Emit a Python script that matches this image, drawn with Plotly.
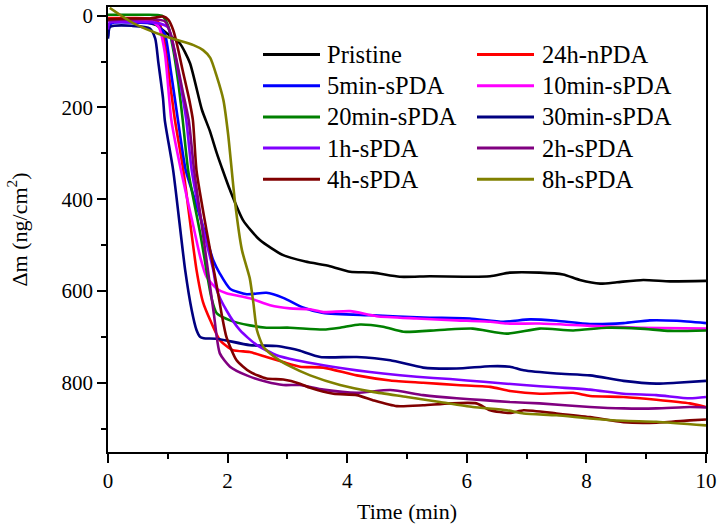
import plotly.graph_objects as go

# ---------------- data ----------------
t_pristine = [0, 0.3, 0.6, 0.8, 1.0, 1.2, 1.37, 1.57, 1.7, 1.82, 1.9, 2.04, 2.26, 2.54, 2.93, 3.3, 3.71, 4.05, 4.43, 4.88, 5.38, 5.94, 6.39, 6.72, 7.22, 7.61, 7.89, 8.23, 8.51, 8.95, 9.4, 10]
dm_pristine = [10, 12, 14, 20, 40, 60, 103, 205, 250, 300, 330, 380, 446, 489, 522, 536, 546, 558, 560, 569, 568, 569, 568, 560, 560, 564, 576, 584, 581, 576, 579, 578]

t_24h_n = [0, 0.3, 0.7, 0.85, 0.95, 1.02, 1.12, 1.26, 1.48, 1.59, 1.71, 1.87, 2.09, 2.37, 2.65, 2.93, 3.21, 3.6, 4.16, 4.72, 5.27, 5.83, 6.39, 6.72, 7.22, 7.78, 8.06, 8.62, 9.17, 9.73, 10]
dm_24h_n = [5, 5, 6, 15, 60, 130, 228, 337, 554, 625, 664, 707, 729, 733, 744, 755, 765, 767, 784, 795, 800, 805, 809, 818, 824, 822, 829, 831, 837, 845, 853]

t_5min = [0, 0.03, 0.1, 0.5, 0.8, 0.95, 1.05, 1.17, 1.30, 1.45, 1.59, 1.76, 1.87, 2.04, 2.32, 2.65, 2.93, 3.26, 3.6, 4.43, 5.27, 6.05, 6.61, 7.06, 7.5, 8.06, 8.62, 9.06, 9.51, 10]
dm_5min = [45, 20, 15, 15, 18, 40, 120, 228, 337, 400, 460, 533, 562, 595, 607, 604, 615, 636, 648, 653, 658, 660, 667, 662, 665, 672, 670, 664, 665, 670]

t_10min = [0, 0.3, 0.7, 0.85, 0.95, 1.06, 1.22, 1.43, 1.55, 1.65, 1.82, 1.98, 2.37, 2.71, 3.04, 3.38, 3.6, 4.05, 4.49, 5.16, 5.83, 6.39, 6.67, 7.22, 8.06, 8.9, 10]
dm_10min = [10, 8, 10, 25, 80, 228, 337, 460, 530, 570, 595, 605, 616, 631, 638, 640, 646, 644, 655, 660, 664, 667, 671, 671, 676, 680, 682]

t_20min = [0, 0.5, 0.9, 1.0, 1.1, 1.18, 1.25, 1.34, 1.55, 1.73, 1.82, 2.04, 2.37, 2.65, 3.04, 3.6, 3.88, 4.21, 4.6, 4.94, 5.55, 6.1, 6.67, 7.22, 7.78, 8.34, 8.9, 9.4, 10]
dm_20min = [-2, -2, 0, 20, 80, 150, 228, 337, 480, 615, 649, 664, 675, 680, 680, 684, 680, 673, 678, 689, 685, 682, 693, 682, 686, 680, 682, 687, 686]

t_30min = [0, 0.03, 0.1, 0.4, 0.7, 0.79, 0.84, 0.92, 0.95, 1.09, 1.29, 1.40, 1.48, 1.54, 1.6, 1.82, 2.37, 2.82, 3.04, 3.2, 3.55, 4.16, 4.72, 5.27, 5.83, 6.39, 6.72, 6.95, 7.5, 8.06, 8.62, 9.17, 9.51, 10]
dm_30min = [50, 25, 22, 22, 28, 50, 100, 180, 228, 337, 554, 642, 685, 700, 703, 704, 718, 720, 725, 730, 744, 744, 751, 767, 769, 764, 765, 773, 780, 784, 796, 802, 800, 796]

t_1h = [0, 0.03, 0.3, 0.8, 1.0, 1.1, 1.2, 1.31, 1.40, 1.6, 1.76, 1.82, 1.98, 2.21, 2.49, 2.82, 3.15, 3.6, 4.16, 4.6, 5.16, 5.72, 6.28, 6.95, 7.5, 8.06, 8.62, 9.17, 9.73, 10]
dm_1h = [30, 15, 14, 15, 25, 70, 140, 228, 337, 470, 554, 598, 642, 686, 718, 740, 751, 762, 773, 780, 787, 792, 798, 805, 810, 815, 824, 827, 834, 831]

t_2h = [0, 0.3, 0.8, 0.95, 1.05, 1.15, 1.25, 1.35, 1.44, 1.55, 1.67, 1.77, 1.87, 2.04, 2.32, 2.65, 2.93, 3.21, 3.6, 4.16, 4.72, 5.27, 5.83, 6.28, 6.72, 7.22, 8.06, 8.62, 9.17, 9.73, 10]
dm_2h = [10, 8, 8, 12, 40, 100, 165, 228, 337, 440, 554, 650, 736, 765, 784, 798, 805, 805, 815, 822, 816, 827, 834, 838, 842, 845, 853, 856, 856, 853, 854]

t_4h = [0, 0.3, 0.7, 0.93, 1.01, 1.09, 1.15, 1.25, 1.36, 1.42, 1.48, 1.65, 1.82, 1.90, 1.98, 2.15, 2.37, 2.65, 2.93, 3.21, 3.38, 3.77, 4.16, 4.43, 4.83, 5.27, 5.72, 6.16, 6.39, 6.72, 6.95, 7.5, 8.06, 8.62, 9.17, 9.73, 10]
dm_4h = [8, 6, 6, 2, 9, 31, 60, 120, 184, 228, 337, 470, 590, 650, 700, 751, 776, 791, 793, 802, 811, 824, 827, 838, 851, 849, 845, 845, 860, 866, 860, 867, 875, 886, 887, 882, 880]

t_8h = [0.03, 0.42, 0.98, 1.43, 1.59, 1.71, 1.82, 1.93, 2.01, 2.12, 2.24, 2.37, 2.43, 2.49, 2.6, 2.82, 3.04, 3.38, 3.88, 4.43, 5.0, 5.55, 6.1, 6.67, 6.95, 7.5, 8.06, 8.62, 9.17, 10]
dm_8h = [-17, 16, 46, 64, 75, 92, 133, 184, 260, 402, 511, 572, 625, 685, 722, 747, 764, 784, 805, 820, 831, 842, 853, 860, 867, 871, 878, 883, 885, 893]

series_names = ["Pristine", "24h-nPDA", "5min-sPDA", "10min-sPDA", "20min-sPDA",
                "30min-sPDA", "1h-sPDA", "2h-sPDA", "4h-sPDA", "8h-sPDA"]
series_t = [t_pristine, t_24h_n, t_5min, t_10min, t_20min, t_30min, t_1h, t_2h, t_4h, t_8h]
series_dm = [dm_pristine, dm_24h_n, dm_5min, dm_10min, dm_20min, dm_30min, dm_1h, dm_2h, dm_4h, dm_8h]
series_colors = ["#000000", "#FF0000", "#0000FF", "#FF00FF", "#008000",
                 "#000080", "#8000FF", "#800080", "#800000", "#808000"]

x_ticks = [0, 2, 4, 6, 8, 10]
y_ticks = [0, 200, 400, 600, 800]

FONT = "Liberation Serif, Times New Roman, serif"

# ---------------- figure ----------------
fig = go.Figure()
for name, t, dm, c in zip(series_names, series_t, series_dm, series_colors):
    fig.add_trace(go.Scatter(x=t, y=dm, mode="lines", name=name, showlegend=False,
                             line=dict(color=c, width=2.6, shape="spline", smoothing=0.6)))

W, H = 721, 529
ML, MR, MT, MB = 108, 15, 7, 77
pw, ph = W - ML - MR, H - MT - MB

def px_to_paper(px, py):
    return (px - ML) / pw, (H - MB - py) / ph

# custom legend (two columns, row-wise order)
row0, dy = 54.5, 31.2
col_line = [(263, 320), (477, 534)]
col_text = [325, 540]
for i, (name, c) in enumerate(zip(series_names, series_colors)):
    r, col = divmod(i, 2)
    y = row0 + r * dy
    x0, _ = px_to_paper(col_line[col][0], y)
    x1, yp = px_to_paper(col_line[col][1], y)
    fig.add_shape(type="line", xref="paper", yref="paper", x0=x0, x1=x1, y0=yp, y1=yp,
                  line=dict(color=c, width=3))
    xt, _ = px_to_paper(col_text[col], y)
    fig.add_annotation(xref="paper", yref="paper", x=xt, y=yp, text=name, showarrow=False,
                       xanchor="left", yanchor="middle", font=dict(family=FONT, size=24.5, color="black"))

axis_common = dict(showline=True, linecolor="black", linewidth=1.8, mirror=True,
                   ticks="outside", ticklen=9, tickwidth=1.5, tickcolor="black",
                   showgrid=False, zeroline=False,
                   tickfont=dict(family=FONT, size=21, color="black"))

fig.update_xaxes(range=[0, 10], tickvals=x_ticks,
                 minor=dict(ticks="outside", ticklen=5, tickwidth=1.5, tickcolor="black", dtick=1, tick0=0),
                 title=dict(text="Time (min)", font=dict(family=FONT, size=22, color="black"), standoff=12),
                 **axis_common)
fig.update_yaxes(range=[951, -19], tickvals=y_ticks,
                 minor=dict(ticks="outside", ticklen=5, tickwidth=1.5, tickcolor="black", dtick=100, tick0=0),
                 title=dict(text="Δm (ng/cm<sup>2</sup>)", font=dict(family=FONT, size=22, color="black"), standoff=28),
                 **axis_common)

fig.update_layout(width=W, height=H, margin=dict(l=ML, r=MR, t=MT, b=MB, autoexpand=False),
                  plot_bgcolor="white", paper_bgcolor="white", showlegend=False)

fig.write_html("out.html", config={"displayModeBar": False},
               post_script="document.body.style.margin='0px';document.body.style.padding='0px';")
